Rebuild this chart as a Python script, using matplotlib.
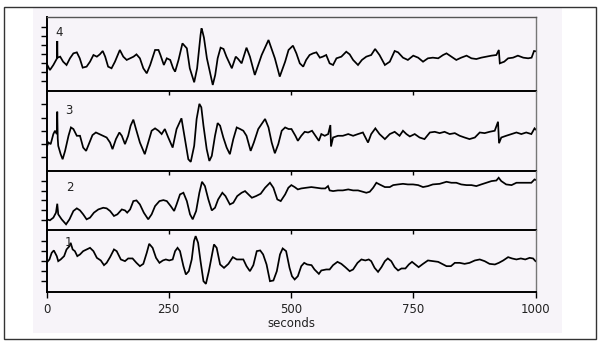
import matplotlib
matplotlib.use("Agg")
import matplotlib.pyplot as plt
from matplotlib.patches import Rectangle

# ---------------- data ----------------
x_ticks = [0, 250, 500, 750, 1000]
x_tick_labels = ["0", "250", "500", "750", "1000"]
x_label = "seconds"
panel_labels = ["4", "3", "2", "1"]

trace4 = [(0,-1.02),(7,-1.75),(14,-1.2),(21.5,-0.47),(22,1.42),(22.5,-0.4),(28,-0.29),(34,-0.84),(41,-1.2),(48,-0.47),
          (55,0.07),(62,0.18),(68,-0.47),(74,-1.49),(82,-1.38),(89,-0.84),(96,-0.11),(103,-0.29),(109,-0.04),(115,0.33),
          (120,-0.29),(126,-1.38),(133,-1.56),(140,-0.84),(150,0.44),(157,-0.29),(164,-0.65),(171,-0.47),(178,-0.29),
          (184,-0.04),(191,-0.47),(198,-1.56),(205,-2.11),(212,-1.2),(222,0.44),(229,0.44),(233,-0.11),(240,-1.2),
          (246,-0.47),(253,-0.65),(259,-1.56),(263,-1.93),(270,-0.65),(278,1.16),(287,0.62),(293,-1.56),(302,-3.09),
          (308,-1.56),(315,2.07),(317,2.8),(319,2.44),(322,1.78),(328,-0.47),(334,-1.93),(340,-3.38),(345,-2.29),
          (350,-0.47),(356,0.69),(362,0.55),(368,-0.29),(379,-1.56),(387,-0.29),(392,-0.55),(399,-1.02),(409,0.69),
          (416,-0.29),(426,-2.29),(433,-1.2),(440,-0.11),(454,1.53),(460,0.62),(467,-0.47),(477,-2.47),(488,-0.84),
          (495,0.44),(504,0.91),(511,0.07),(518,-1.02),(525,-1.38),(531,-0.65),(538,-0.11),(545,0.07),(552,0.18),
          (559,-0.4),(565,-0.29),(572,-0.11),(579,-1.02),(586,-1.2),(593,-0.47),(603,-0.29),(613,0.25),(620,-0.04),
          (627,-0.65),(637,-1.2),(645,-0.65),(654,-0.29),(664,-0.11),(672,0.55),(681,-0.11),(692,-1.2),(702,-0.84),
          (712,0.33),(719,0.18),(729,-0.4),(739,-0.65),(750,-0.18),(760,-0.4),(770,-0.84),(780,-0.47),(790,-0.4),
          (801,-0.47),(811,-0.11),(818,0.07),(828,-0.29),(838,-0.65),(848,-0.4),(859,-0.18),(869,-0.47),(879,-0.55),
          (889,-0.4),(900,-0.29),(910,-0.18),(920,-0.11),(925,0.44),(927,-1.02),(936,-0.84),(944,-0.47),(954,-0.4),
          (964,-0.18),(975,-0.4),(985,-0.47),(992,-0.4),(997,0.33),(1000,0.3)]

trace3 = [(0,-1.27),(4,-0.89),(8.5,-1.01),(14,-0.25),(17.4,0),(21,-0.25),(22,1.44),(23,-0.6),(24,-1.14),(29,-1.77),
          (33,-2.15),(38,-1.52),(45,-0.38),(50,0.25),(55,0.13),(62,-0.38),(68.5,-0.38),(75,-1.27),(81,-1.52),(88,-0.89),
          (94,-0.33),(101,-0.13),(108,-0.25),(116,-0.38),(123,-0.51),(130,-0.89),(135,-1.39),(142,-0.63),(149,-0.13),
          (154,-0.38),(160.5,-1.01),(167,-0.38),(172,0.38),(177.6,0.84),(183,0.13),(191,-0.89),(201,-1.77),(208,-0.89),
          (215,0),(222,0.18),(229,0),(235.5,-0.25),(242,0.13),(249,-0.51),(258,-1.27),(266,0.13),(276,0.94),(283,-0.63),
          (290,-2.15),(295,-2.35),(302,-1.14),(307,0.89),(312.6,2.03),(316.6,1.77),(321,0.38),(327.6,-1.39),(333,-2.28),
          (338,-1.9),(344.6,-0.38),(350,0.58),(355,0.38),(361.6,-0.51),(368.4,-1.27),(375,-1.77),(382,-0.63),(389,0.25),
          (396,0.13),(402.5,0),(409,-0.38),(417.5,-1.52),(424,-0.89),(433,0.13),(440,0.51),(447,0.89),(454,0.25),
          (460.5,-0.89),(467,-1.7),(474,-1.01),(481,0),(488,0.25),(495,0.13),(501,0.13),(509,-0.38),(514,-0.76),
          (521,-0.38),(528,-0.08),(535,-0.13),(543,0),(550,-0.38),(557,-0.76),(562,-0.25),(569,-0.38),(576,-0.25),
          (580.5,0.43),(581.8,-1.19),(586,-0.51),(596,-0.38),(606,-0.38),(617,-0.25),(627,-0.38),(637,-0.25),(647,-0.13),
          (657.5,-0.89),(664,-0.25),(672.5,0.18),(681,-0.25),(692,-0.63),(702,-0.25),(712,-0.08),(722,-0.38),(729,0),
          (736,-0.25),(743,-0.43),(753,-0.25),(763,-0.51),(773,-0.63),(784,-0.13),(794,-0.08),(804,-0.18),(814,-0.08),
          (824.5,-0.25),(835,-0.18),(845,-0.38),(855,-0.51),(865,-0.63),(876,-0.51),(886,-0.13),(896,-0.18),(906,-0.08),
          (916.6,0),(923.4,0.68),(925.4,-0.94),(930,-0.51),(940,-0.38),(951,-0.25),(961,-0.13),(971,-0.25),(981,-0.13),
          (991.5,-0.25),(998,0.18),(1000,0.1)]

trace2 = [(0,-1.93),(7,-2.03),(14,-1.76),(19.4,-1.25),(22,-0.34),(24,-1.42),(31,-1.93),(40,-2.44),(47,-1.93),(55,-1.08),
          (62,-0.81),(68.5,-1.02),(75,-1.42),(82,-1.93),(89,-1.76),(97,-1.25),(106,-0.92),(116,-0.75),(123,-0.81),
          (130,-1.08),(138,-1.59),(145,-1.42),(154,-0.92),(160.5,-1.02),(165,-1.25),(171,-0.92),(177.6,-0.07),(184,0),
          (191,-0.41),(199,-1.25),(208,-1.93),(215,-1.42),(222,-0.58),(231,-0.07),(239,0.03),(246,-0.07),(254,-0.58),
          (261,-1.08),(266,-0.41),(273,0.61),(280,0.78),(287,-0.07),(293.5,-1.42),(299,-1.93),(306,-1.08),(312.6,0.78),
          (318,1.9),(324,1.46),(331,0.1),(338,-1.02),(344.6,-0.75),(351,0.1),(359.6,0.78),(366,0.44),(375,-0.41),
          (382,-0.24),(390,0.44),(399,0.78),(406,0.95),(413,0.61),(420,0.27),(428.5,0.44),(438,0.68),(447,1.29),
          (457,1.8),(464,1.29),(472,0.1),(479,-0.07),(488,0.61),(494.6,1.29),(500.7,1.56),(507.5,1.36),(514,1.12),
          (521,1.22),(531,1.29),(541.6,1.36),(552,1.29),(562,1.22),(570,1.22),(575.7,1.46),(579,1.02),(586,0.95),
          (596,1.02),(606,1.02),(617,1.12),(627,1.02),(637,1.02),(647,0.88),(654,0.78),(661,0.88),(668,1.29),
          (674.6,1.8),(681,1.63),(692,1.36),(702,1.36),(709,1.56),(719,1.63),(729,1.69),(739,1.63),(749.5,1.63),
          (760,1.56),(770,1.36),(780,1.46),(790,1.63),(804,1.69),(818,1.9),(828,1.8),(838,1.8),(848,1.63),(859,1.56),
          (869,1.56),(879,1.46),(889,1.63),(899.5,1.8),(910,1.97),(920,2.03),(924.7,2.31),(930,1.97),(940,1.63),
          (951,1.56),(961,1.8),(971,1.8),(981,1.8),(991.5,1.8),(998,2.14),(1000,2.1)]

trace1 = [(0,-0.17),(6,0.17),(10.6,0.83),(15,1.07),(21,0.5),(24,0),(29,0.17),(36,0.5),(41,1.17),(47,1.5),(49.4,1.83),
          (53.5,1.17),(58,1),(63,0.5),(68.5,0.67),(75,1),(82,1.17),(89,1.33),(96,1),(103,0.33),(111,0.07),(117.6,-0.4),
          (123,-0.17),(130,0.4),(138,1.17),(143.5,1),(152,0.17),(160.5,0),(167,0.27),(176,0.27),(184,-0.17),(191,-0.5),
          (198,-0.27),(205,0.83),(210,1.73),(217,1.33),(224,0.33),(231,-0.17),(238,0.07),(244,0.17),(251,0.07),
          (258,0.17),(263,1),(268,1.33),(273,1),(280,-0.5),(285,-1.33),(291,-1),(297,0.17),(301.6,2),(305,2.5),
          (310,1.83),(315,0),(321,-2),(326,-2.27),(332,-1),(338,0.5),(342.5,1.67),(348,1.33),(355,-0.33),(363,-0.67),
          (372,-0.27),(381,0.4),(389,0.17),(396,0.17),(402.5,0.17),(409,-0.5),(416,-1),(423,-0.4),(430,1),(437,1.07),
          (443,0.67),(450,-0.33),(457,-2),(464,-1.93),(471,-1),(477.5,0.67),(483,1.27),(490,1),(497,-0.67),(502,-1.5),
          (507.5,-1.83),(514,-1.5),(521,-0.5),(527,-0.17),(533,-0.33),(542,-0.4),(548,-0.83),(557,-1.27),(562,-0.93),
          (572,-0.83),(579,-0.83),(586,-0.4),(595,-0.07),(603,-0.27),(611,-0.6),(620,-1),(627,-0.83),(636,-0.17),
          (644,0.17),(652,0.07),(659,0.17),(664,0),(671,-0.67),(678,-1.07),(685,-0.6),(692,0),(698,0.27),(705,0),
          (712,-0.6),(719,-0.93),(726,-0.73),(734,-0.73),(741,-0.33),(747.5,-0.07),(754,-0.33),(761,-0.6),(770,-0.27),
          (780,0.07),(790,0),(801,-0.07),(809,-0.27),(818,-0.5),(827,-0.5),(835,-0.17),(845,-0.17),(855,-0.27),
          (865,-0.17),(876,0.07),(886,0.17),(896,0),(906,-0.27),(917,-0.33),(925,-0.17),(934,0.07),(944,0.4),(952,0.27),
          (961,0.17),(970,0.27),(979,0.17),(988,0.33),(995,0.27),(1000,0)]

traces = [trace4, trace3, trace2, trace1]

# ---------------- layout (pixels of the 600x345 canvas) ----------------
W, H = 600, 345
LEFT, RIGHT = 46.5, 535.5
panel_px = [(17, 91), (91, 170.5), (170.5, 230.3), (230.3, 292)]
panel_ylim = [(-4.04, 4.04), (-3.0, 3.0), (-3.05, 3.05), (-3.08, 3.08)]
panel_yticks = [[-3, -2, -1, 0, 1, 2, 3], [-2, -1, 0, 1, 2], [-2, -1, 0, 1, 2], [-2, -1, 0, 1, 2]]
label_pos = [(26, 2.36), (45, 1.52), (48, 1.29), (45, 1.83)]

plt.rcParams['font.family'] = ['DejaVu Sans']

fig = plt.figure(figsize=(W / 100, H / 100), dpi=100)
fig.patch.set_facecolor('white')


def fx(px):
    return px / W


def fy(py):
    return 1 - py / H


fig.patches.append(Rectangle((fx(33), fy(333)), fx(562) - fx(33), fy(8) - fy(333),
                             transform=fig.transFigure, facecolor='#f7f4f9',
                             edgecolor='none', zorder=-10))
fig.patches.append(Rectangle((fx(3.5), fy(338.5)), fx(595.5) - fx(3.5), fy(7) - fy(338.5),
                             transform=fig.transFigure, facecolor='none',
                             edgecolor='#333333', lw=1.0, zorder=-9))

n = len(traces)
for i, (tr, (top, bot)) in enumerate(zip(traces, panel_px)):
    ax = fig.add_axes([fx(LEFT), fy(bot), fx(RIGHT) - fx(LEFT), fy(top) - fy(bot)])
    ax.set_zorder(1)
    ax.set_facecolor('none')
    t = [p[0] for p in tr]
    v = [p[1] for p in tr]
    ax.plot(t, v, color='black', lw=1.25, solid_joinstyle='miter')
    ax.set_xlim(0, 1000)
    ax.set_ylim(*panel_ylim[i])
    ax.set_yticks(panel_yticks[i])
    ax.tick_params(axis='y', direction='out', length=4, width=1, labelleft=False, color='black')
    ax.text(label_pos[i][0], label_pos[i][1], panel_labels[i], fontsize=8.5,
            ha='center', va='center', color='#222222')
    for s in ['left', 'bottom']:
        ax.spines[s].set_color('black')
        ax.spines[s].set_linewidth(1.4)
    ax.spines['right'].set_color('#777777')
    ax.spines['right'].set_linewidth(1.0)
    if i == 0:
        ax.spines['top'].set_color('#555555')
        ax.spines['top'].set_linewidth(1.0)
    else:
        ax.spines['top'].set_visible(False)
    if i < n - 1:
        ax.set_xticks([250, 500, 750])
        ax.tick_params(axis='x', direction='out', length=3, width=1, labelbottom=False)
    else:
        ax.set_xticks(x_ticks)
        ax.set_xticklabels(x_tick_labels)
        ax.tick_params(axis='x', direction='out', length=4, width=1, pad=4,
                       labelsize=8.5, labelcolor='#222222')

fig.text(fx((LEFT + RIGHT) / 2), fy(323.5), x_label, ha='center', va='center',
         fontsize=8.5, color='#222222')

fig.savefig('out.png', dpi=100)
